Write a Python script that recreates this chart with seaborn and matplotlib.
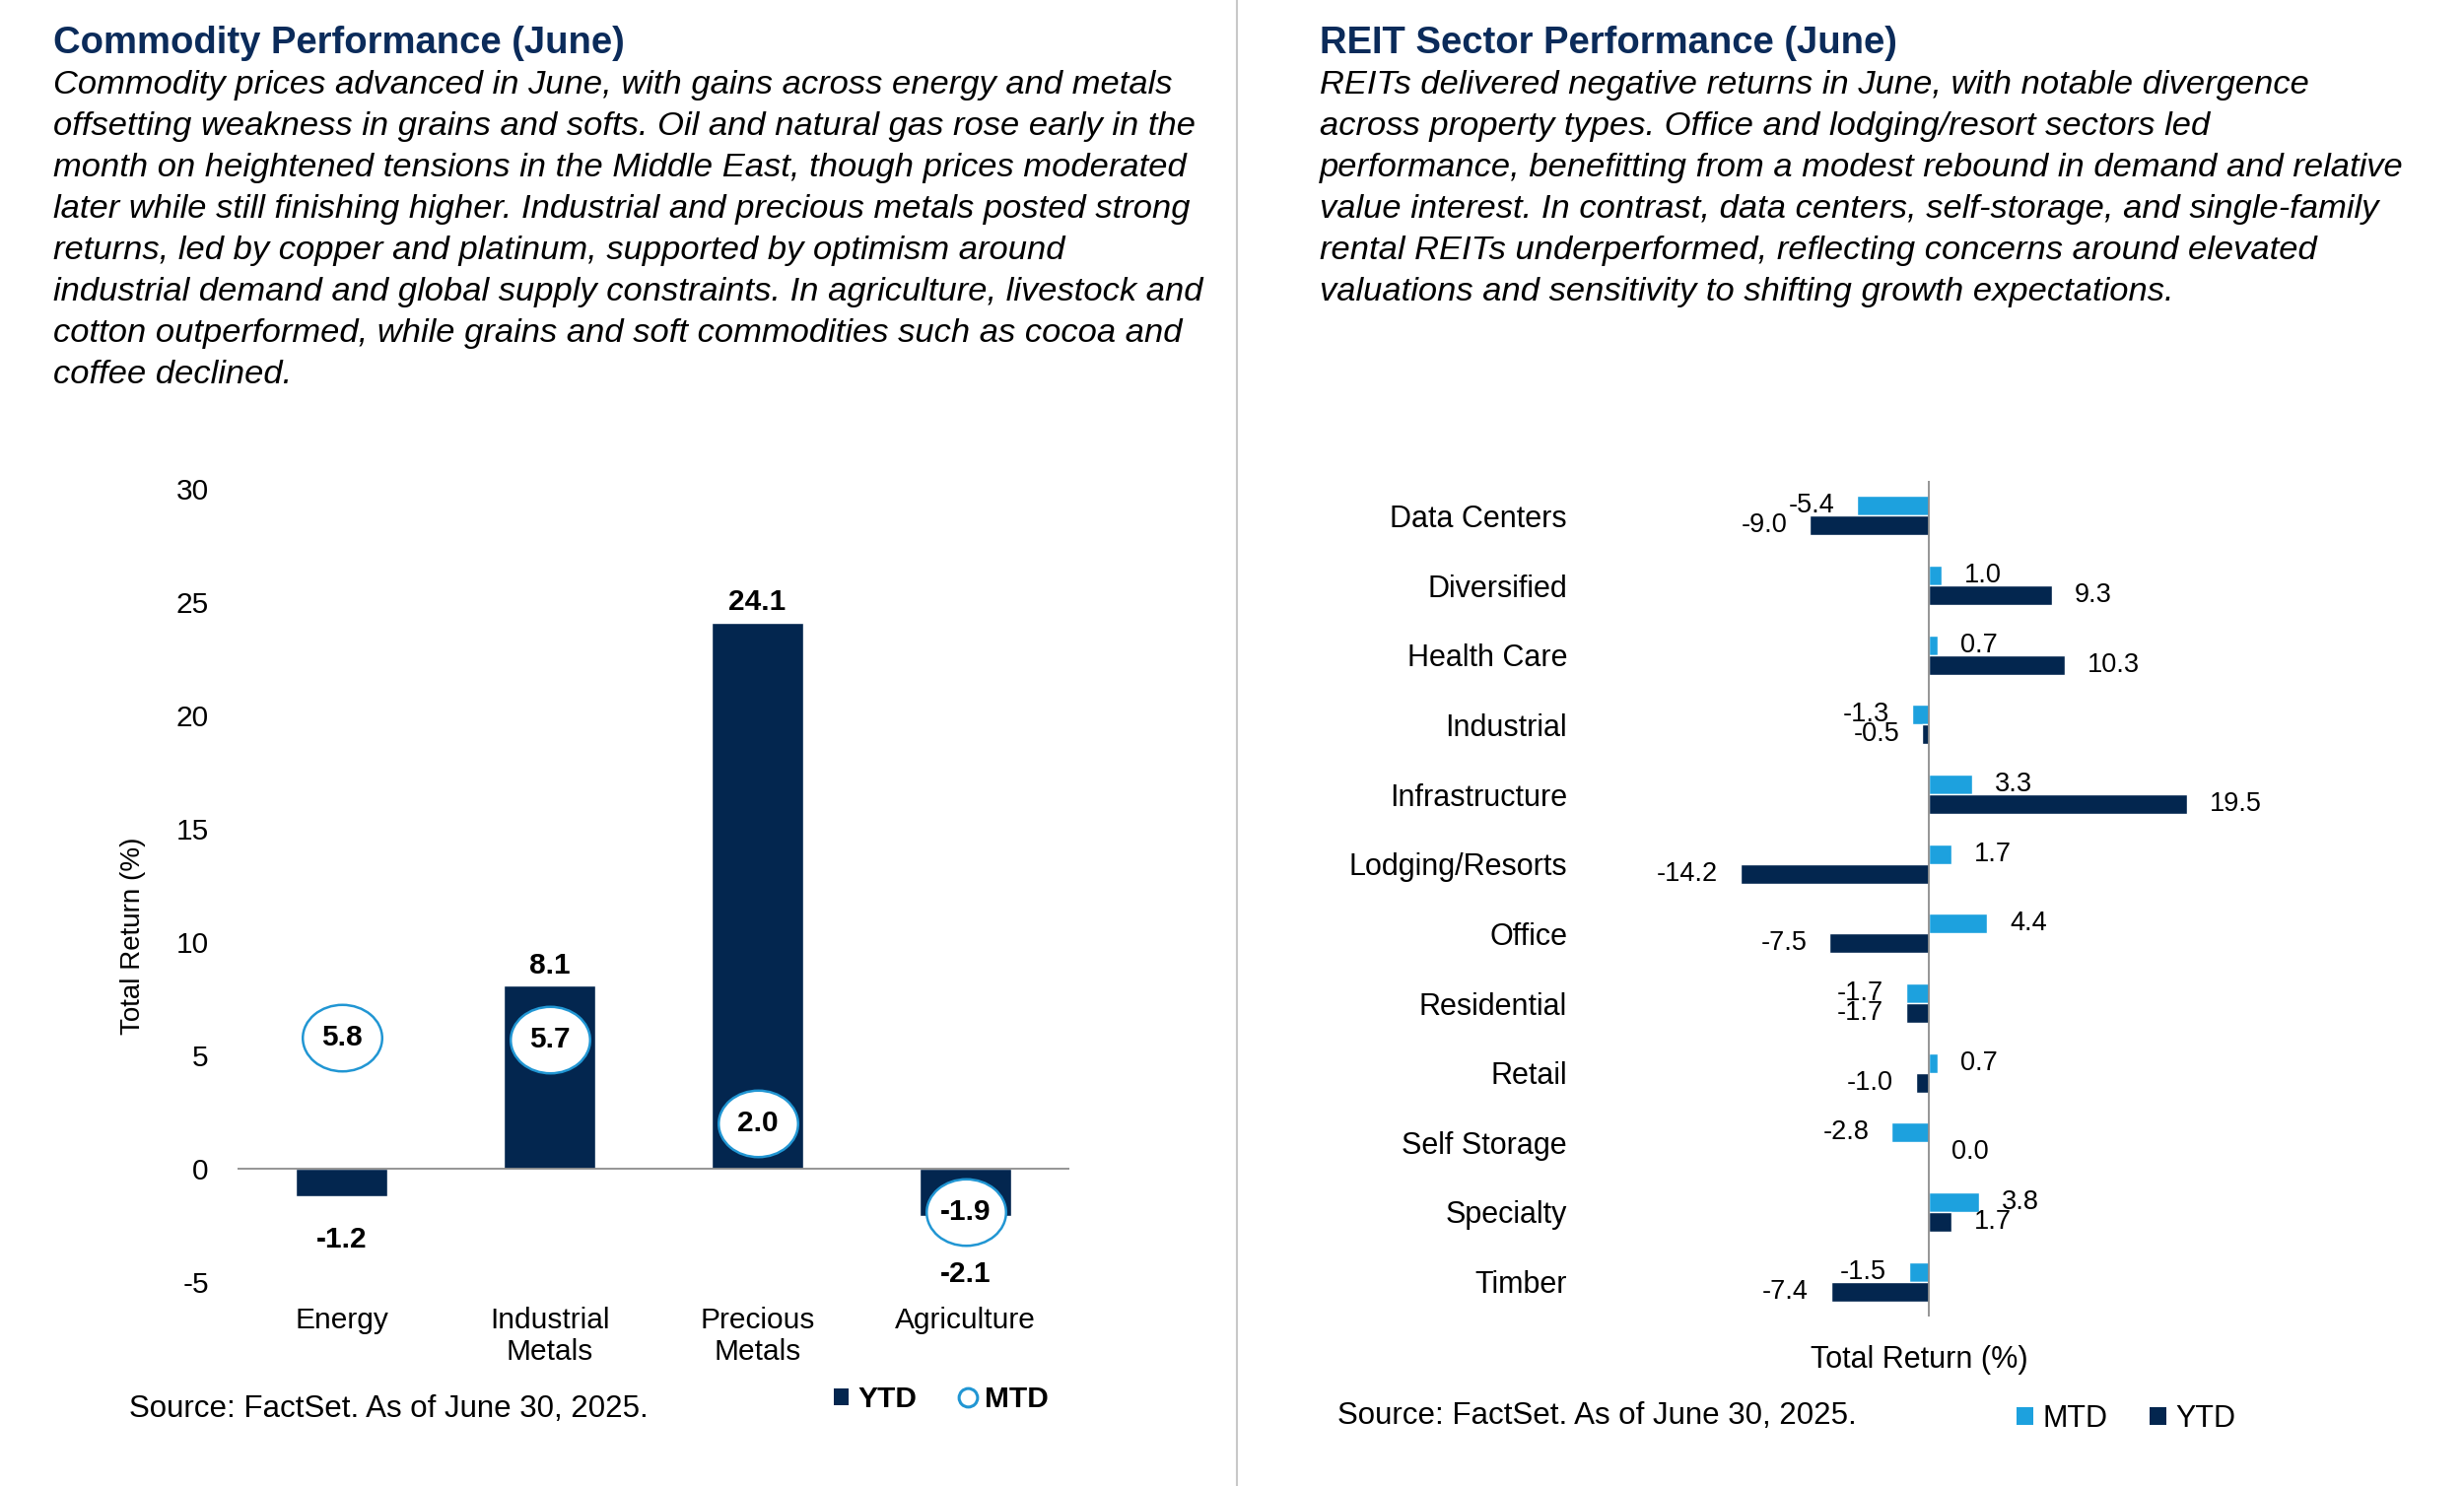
import numpy as np
import pandas as pd
import matplotlib
matplotlib.use('Agg')
import matplotlib.pyplot as plt
import seaborn as sns
from matplotlib.path import Path
from matplotlib.patches import Patch
from matplotlib.lines import Line2D

#----------- DADOS: COMMODITIES -----------#
comm_sectors = ['Energy', 'Industrial\nMetals', 'Precious\nMetals', 'Agriculture']
comm_ytd = [-1.2, 8.1, 24.1, -2.1]
comm_mtd = [5.8, 5.7, 2.0, -1.9]
comm_yticks = [-5, 0, 5, 10, 15, 20, 25, 30]

#----------- DADOS: REITs -----------#
reit_sectors = ['Data Centers', 'Diversified', 'Health Care', 'Industrial', 'Infrastructure',
                'Lodging/Resorts', 'Office', 'Residential', 'Retail', 'Self Storage',
                'Specialty', 'Timber']
reit_mtd = [-5.4, 1.0, 0.7, -1.3, 3.3, 1.7, 4.4, -1.7, 0.7, -2.8, 3.8, -1.5]
reit_ytd = [-9.0, 9.3, 10.3, -0.5, 19.5, -14.2, -7.5, -1.7, -1.0, 0.0, 1.7, -7.4]

comm_text = [
    "Commodity prices advanced in June, with gains across energy and metals",
    "offsetting weakness in grains and softs. Oil and natural gas rose early in the",
    "month on heightened tensions in the Middle East, though prices moderated",
    "later while still finishing higher. Industrial and precious metals posted strong",
    "returns, led by copper and platinum, supported by optimism around",
    "industrial demand and global supply constraints. In agriculture, livestock and",
    "cotton outperformed, while grains and soft commodities such as cocoa and",
    "coffee declined.",
]
reit_text = [
    "REITs delivered negative returns in June, with notable divergence",
    "across property types. Office and lodging/resort sectors led",
    "performance, benefitting from a modest rebound in demand and relative",
    "value interest. In contrast, data centers, self-storage, and single-family",
    "rental REITs underperformed, reflecting concerns around elevated",
    "valuations and sensitivity to shifting growth expectations.",
]
source = 'Source: FactSet. As of June 30, 2025.'

NAVY = '#03264F'
LIGHT = '#1DA1DE'
RING = '#2196D3'
TITLE = '#0B2B5A'
GREY = '#8C8C8C'

sns.set_theme(style='white')
plt.rcParams['font.family'] = ['Liberation Sans', 'DejaVu Sans']
plt.rcParams['text.color'] = 'black'
plt.rcParams['xtick.color'] = 'black'
plt.rcParams['ytick.color'] = 'black'
plt.rcParams['axes.labelcolor'] = 'black'
plt.rcParams['axes.unicode_minus'] = False

W, H = 2500, 1508
fig = plt.figure(figsize=(25, 15.08), dpi=100)


def fx(px):
    return px / W


def fy(py):
    return 1 - py / H


#----------- TITULOS E TEXTO -----------#
for x0, title, lines in [(54, 'Commodity Performance (June)', comm_text),
                         (1339, 'REIT Sector Performance (June)', reit_text)]:
    fig.text(fx(x0), fy(54), title, fontsize=27.5, fontweight='bold', color=TITLE, va='baseline')
    for i, line in enumerate(lines):
        fig.text(fx(x0), fy(95 + 42 * i), line, fontsize=24.8, style='italic', va='baseline')

# linha divisoria
fig.add_artist(Line2D([fx(1255), fx(1255)], [0, 1], transform=fig.transFigure,
                      color='#C8C8C8', lw=1.5))

#----------- GRAFICO 1: COMMODITIES -----------#
ax1 = fig.add_axes([fx(241), fy(1301), (1085 - 241) / W, (1301 - 496) / H])
df_c = pd.DataFrame({'sector': comm_sectors, 'pos': np.arange(len(comm_sectors)),
                     'YTD': comm_ytd, 'MTD': comm_mtd})
sns.barplot(data=df_c, x='sector', y='YTD', color=NAVY, width=0.445, saturation=1, ax=ax1)
ax1.axhline(0, color=GREY, lw=1.3, zorder=2)

ring = Path.unit_circle()
ring = Path(ring.vertices * np.array([1, 0.8375]), ring.codes)
sns.scatterplot(data=df_c, x='pos', y='MTD', marker=ring, s=58 ** 2, color='white',
                edgecolor=RING, linewidth=1.8, zorder=3, ax=ax1)

ytd_offsets = [-32, 14, 15, -42]
for i, (v, off) in enumerate(zip(comm_ytd, ytd_offsets)):
    ax1.annotate(f'{v:.1f}', (i, v), xytext=(0, off), textcoords='offset points',
                 ha='center', va='center', fontsize=21.5, fontweight='bold', zorder=5)
for i, v in enumerate(comm_mtd):
    ax1.annotate(f'{v:.1f}', (i, v), ha='center', va='center', fontsize=21.5,
                 fontweight='bold', zorder=5)

ax1.set_xlim(-0.5, 3.5)
ax1.set_ylim(-5, 30)
ax1.set_yticks(comm_yticks)
ax1.tick_params(axis='y', length=0, pad=21, labelsize=21.5)
ax1.tick_params(axis='x', length=0, pad=18, labelsize=21.5)
for lbl in ax1.get_xticklabels():
    lbl.set_linespacing(1.2)
sns.despine(ax=ax1, left=True, bottom=True)
ax1.set_xlabel('')
ax1.set_ylabel('Total Return (%)', fontsize=20)
ax1.yaxis.set_label_coords(-0.11, 0.436)

h1 = [Patch(facecolor=NAVY, edgecolor='none'),
      Line2D([], [], ls='none', marker='o', ms=13.5, mfc='white', mec=RING, mew=2.2)]
fig.legend(h1, ['YTD', 'MTD'], loc='center', bbox_to_anchor=(fx(955), fy(1420)), ncol=2,
           frameon=False, prop={'weight': 'bold', 'size': 21.5}, handlelength=0.5,
           handleheight=0.5, handletextpad=0.3, columnspacing=1.5)
fig.text(fx(131), fy(1430), source, fontsize=22.5, va='center')

#----------- GRAFICO 2: REITs -----------#
ax2 = fig.add_axes([fx(1661.3), fy(1336), (2233.9 - 1661.3) / W, (1336 - 488) / H])
df_r = pd.DataFrame({'sector': reit_sectors * 2,
                     'period': ['MTD'] * len(reit_sectors) + ['YTD'] * len(reit_sectors),
                     'ret': reit_mtd + reit_ytd})
sns.barplot(data=df_r, y='sector', x='ret', hue='period', palette=[LIGHT, NAVY], width=0.57,
            saturation=1, orient='h', legend=False, ax=ax2)
for cont in ax2.containers:
    ax2.bar_label(cont, fmt='%.1f', padding=16.5, fontsize=19.5)

ax2.set_xlim(-22, 20.6)
ax2.set_ylim(11.5, -0.5)
ax2.axvline(0, color=GREY, lw=1.3)
ax2.set_xticks([])
ax2.tick_params(axis='y', length=0, pad=51.3, labelsize=22)
sns.despine(ax=ax2, left=True, bottom=True)
ax2.set_ylabel('')
ax2.set_xlabel('Total Return (%)', fontsize=22, labelpad=21)

h2 = [Patch(facecolor=LIGHT, edgecolor='none'), Patch(facecolor=NAVY, edgecolor='none')]
fig.legend(h2, ['MTD', 'YTD'], loc='center', bbox_to_anchor=(fx(2157), fy(1440)), ncol=2,
           frameon=False, fontsize=22, handlelength=0.55, handleheight=0.55,
           handletextpad=0.3, columnspacing=1.4)
fig.text(fx(1357), fy(1437), source, fontsize=22.5, va='center')

fig.savefig('out.png', dpi=100)
